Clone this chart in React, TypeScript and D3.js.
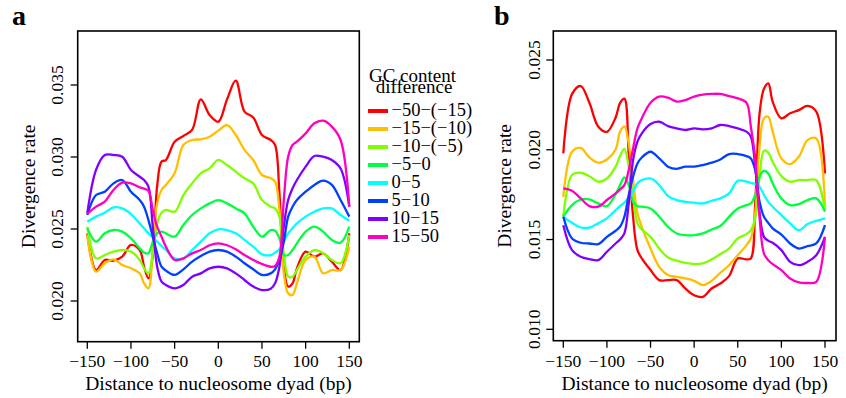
import React, { useRef, useEffect } from "react";
import * as d3 from "d3";

// distance to nucleosome dyad (bp)
const positions = [
  -150, -140, -130, -120, -110, -100, -90, -85, -80, -75, -70, -65, -60, -50, -40, -30, -20, -10, 0,
  10, 20, 30, 40, 50, 60, 65, 70, 75, 80, 85, 90, 100, 110, 120, 130, 140, 150,
];

const groups = ["−50−(−15)", "−15−(−10)", "−10−(−5)", "−5−0", "0−5", "5−10", "10−15", "15−50"];
const colors = ["#FF0000", "#FFBF00", "#80FF00", "#00FF40", "#00FFFF", "#0040FF", "#8000FF", "#FF00BF"];

// panel a
const redA = [0.0247, 0.02215, 0.02285, 0.0228, 0.02308, 0.02389, 0.02354, 0.02238, 0.02157, 0.0232, 0.028, 0.02968, 0.02979, 0.03106, 0.03146, 0.03188, 0.034, 0.03292, 0.03245, 0.034, 0.0353, 0.03315, 0.03275, 0.03153, 0.03118, 0.03083, 0.02748, 0.02238, 0.021, 0.02123, 0.02227, 0.02343, 0.02308, 0.02331, 0.02273, 0.02215, 0.0247];
const orangeA = [0.02458, 0.02204, 0.02262, 0.02289, 0.0225, 0.02227, 0.02192, 0.02123, 0.02088, 0.02377, 0.02678, 0.02771, 0.02806, 0.02887, 0.03083, 0.03118, 0.03123, 0.03141, 0.03183, 0.03222, 0.03153, 0.03049, 0.02979, 0.02875, 0.02852, 0.02829, 0.02632, 0.02192, 0.02053, 0.02042, 0.02123, 0.02285, 0.02308, 0.02192, 0.02215, 0.02215, 0.02377];
const limeA = [0.02516, 0.02296, 0.02319, 0.02343, 0.02354, 0.02343, 0.02285, 0.02227, 0.02192, 0.0233, 0.02539, 0.02613, 0.02632, 0.0262, 0.02736, 0.02817, 0.02887, 0.02921, 0.0298, 0.02944, 0.02898, 0.02852, 0.02817, 0.02701, 0.02655, 0.02643, 0.02586, 0.02331, 0.02169, 0.02169, 0.02215, 0.02308, 0.02354, 0.02331, 0.02285, 0.02262, 0.02458];
const greenA = [0.02505, 0.02412, 0.0247, 0.02493, 0.02482, 0.02435, 0.02366, 0.02336, 0.02331, 0.02412, 0.0247, 0.02482, 0.0247, 0.02447, 0.02528, 0.02597, 0.02643, 0.02678, 0.02701, 0.02678, 0.02643, 0.02609, 0.02516, 0.02447, 0.02493, 0.02488, 0.02435, 0.02319, 0.02319, 0.02354, 0.024, 0.02482, 0.02516, 0.02482, 0.02424, 0.02405, 0.02516];
const cyanA = [0.02551, 0.02586, 0.02613, 0.0265, 0.02643, 0.02604, 0.02539, 0.02505, 0.0247, 0.02442, 0.02412, 0.02382, 0.02354, 0.02296, 0.02296, 0.02354, 0.02412, 0.0247, 0.02498, 0.02493, 0.0247, 0.02424, 0.02377, 0.02324, 0.02319, 0.02336, 0.02359, 0.02412, 0.0247, 0.02505, 0.02539, 0.02586, 0.0262, 0.02643, 0.02643, 0.02597, 0.02558];
const blueA = [0.02597, 0.02736, 0.02759, 0.02817, 0.0284, 0.02759, 0.02701, 0.02655, 0.02562, 0.02447, 0.02331, 0.02238, 0.02211, 0.02181, 0.0222, 0.02273, 0.02312, 0.02343, 0.02354, 0.02343, 0.02308, 0.02262, 0.0222, 0.02181, 0.02192, 0.0222, 0.02285, 0.02412, 0.02586, 0.02655, 0.02701, 0.02759, 0.02806, 0.02836, 0.02806, 0.02701, 0.02586];
const purpleA = [0.02609, 0.0291, 0.03014, 0.03014, 0.03002, 0.0291, 0.02863, 0.0284, 0.02794, 0.02516, 0.02238, 0.02134, 0.02111, 0.02088, 0.02111, 0.02169, 0.02192, 0.02227, 0.02238, 0.02227, 0.02192, 0.02146, 0.021, 0.02076, 0.02085, 0.02123, 0.02238, 0.02516, 0.02701, 0.02782, 0.0284, 0.02933, 0.03007, 0.03002, 0.02979, 0.0292, 0.02655];
const magentaA = [0.02604, 0.02655, 0.0269, 0.02771, 0.02822, 0.02817, 0.02789, 0.0278, 0.02766, 0.02632, 0.02516, 0.02447, 0.02377, 0.02285, 0.02296, 0.02331, 0.02354, 0.02387, 0.024, 0.02387, 0.02359, 0.02319, 0.02285, 0.02257, 0.02238, 0.02243, 0.02308, 0.02701, 0.03002, 0.03083, 0.03106, 0.03164, 0.03234, 0.03252, 0.03211, 0.03118, 0.02655];

// panel b
const redB = [0.0198, 0.0231, 0.02355, 0.0226, 0.0213, 0.021, 0.0218, 0.0226, 0.02285, 0.0198, 0.01627, 0.01441, 0.01395, 0.0133, 0.01274, 0.01274, 0.01274, 0.01227, 0.0119, 0.01181, 0.01227, 0.01255, 0.01296, 0.01395, 0.01389, 0.01395, 0.01701, 0.02203, 0.0234, 0.0237, 0.02268, 0.02175, 0.02203, 0.02221, 0.02244, 0.02212, 0.01868];
const orangeB = [0.01738, 0.01989, 0.0201, 0.01957, 0.01928, 0.01946, 0.02002, 0.021, 0.0213, 0.02036, 0.01831, 0.01645, 0.01571, 0.0145, 0.01348, 0.01302, 0.01292, 0.01283, 0.0127, 0.01246, 0.0127, 0.01315, 0.01357, 0.01413, 0.01469, 0.01506, 0.01645, 0.02017, 0.02175, 0.02184, 0.02101, 0.01952, 0.0192, 0.01961, 0.02054, 0.02063, 0.01683];
const limeB = [0.01627, 0.01859, 0.01872, 0.01853, 0.01822, 0.0184, 0.01906, 0.01965, 0.02005, 0.01906, 0.01738, 0.0159, 0.01556, 0.01515, 0.0145, 0.014, 0.01382, 0.0137, 0.01363, 0.01367, 0.01389, 0.01419, 0.0145, 0.01506, 0.0153, 0.01552, 0.01618, 0.0185, 0.01995, 0.01984, 0.01933, 0.01853, 0.01822, 0.01831, 0.01831, 0.01831, 0.01664];
const greenB = [0.01627, 0.01692, 0.01723, 0.01723, 0.01701, 0.01686, 0.01753, 0.01803, 0.01846, 0.01803, 0.0171, 0.01686, 0.01683, 0.01673, 0.01627, 0.01571, 0.01534, 0.01524, 0.01524, 0.01534, 0.01556, 0.01575, 0.01627, 0.01673, 0.01692, 0.01701, 0.01748, 0.0185, 0.01883, 0.01868, 0.01813, 0.01729, 0.01692, 0.01697, 0.0172, 0.01729, 0.01655];
const cyanB = [0.01627, 0.01593, 0.01567, 0.01567, 0.0159, 0.01618, 0.01664, 0.01686, 0.01705, 0.01735, 0.01766, 0.01813, 0.01831, 0.0184, 0.01803, 0.01742, 0.0172, 0.0171, 0.01705, 0.01701, 0.01716, 0.01729, 0.01757, 0.01827, 0.01822, 0.01816, 0.01809, 0.01794, 0.01748, 0.0171, 0.01683, 0.01636, 0.0159, 0.01552, 0.01586, 0.01604, 0.01618];
const blueB = [0.01627, 0.01506, 0.01482, 0.01478, 0.01474, 0.01515, 0.01549, 0.01571, 0.01627, 0.01748, 0.0185, 0.01924, 0.01957, 0.01989, 0.01952, 0.01906, 0.01894, 0.01906, 0.01906, 0.01915, 0.01928, 0.01946, 0.01976, 0.01976, 0.01965, 0.01952, 0.01887, 0.0171, 0.01627, 0.01593, 0.01562, 0.01528, 0.01478, 0.0145, 0.01463, 0.01478, 0.0158];
const purpleB = [0.0158, 0.01441, 0.01404, 0.01391, 0.01385, 0.01432, 0.01478, 0.015, 0.01534, 0.01701, 0.01943, 0.02045, 0.02091, 0.02143, 0.02156, 0.02132, 0.02119, 0.0211, 0.02119, 0.02114, 0.02119, 0.02138, 0.02132, 0.02119, 0.02101, 0.02073, 0.01906, 0.0165, 0.01515, 0.01493, 0.01482, 0.01441, 0.01376, 0.01357, 0.01376, 0.01413, 0.01515];
const magentaB = [0.01785, 0.01772, 0.01729, 0.01686, 0.01683, 0.0172, 0.01757, 0.01779, 0.01803, 0.01887, 0.02008, 0.02119, 0.02175, 0.02262, 0.02296, 0.0229, 0.02268, 0.02277, 0.02296, 0.02307, 0.02311, 0.02311, 0.02299, 0.02286, 0.02262, 0.02128, 0.0195, 0.0162, 0.01422, 0.01385, 0.01363, 0.0133, 0.01283, 0.01261, 0.01258, 0.01264, 0.01515];

const xTicks = [-150, -100, -50, 0, 50, 100, 150];
const yTicksA = [0.02, 0.025, 0.03, 0.035];
const yTicksB = [0.01, 0.015, 0.02, 0.025];

const FONT = "'Liberation Serif', 'Times New Roman', serif";

const panels = [
  {
    label: "a",
    series: [redA, orangeA, limeA, greenA, cyanA, blueA, purpleA, magentaA],
    box: { l: 77.7, r: 359.3, t: 31, b: 341.7 },
    xRange: [87.3, 349.3],
    yDomain: [0.02, 0.035],
    yRange: [301, 85],
    yTicks: yTicksA,
    tickLabelX: 63,
    titleX: 35,
    labelX: 12,
  },
  {
    label: "b",
    series: [redB, orangeB, limeB, greenB, cyanB, blueB, purpleB, magentaB],
    box: { l: 553.3, r: 836, t: 31, b: 340.7 },
    xRange: [563.3, 825],
    yDomain: [0.01, 0.025],
    yRange: [329.3, 60],
    yTicks: yTicksB,
    tickLabelX: 540,
    titleX: 511,
    labelX: 494,
  },
];

const minus = (s: string) => s.replace(/-/g, "−");

export default function App() {
  const svgRef = useRef<SVGSVGElement>(null);

  useEffect(() => {
    const svg = d3.select(svgRef.current);
    svg.selectAll("*").remove();
    svg.attr("font-family", FONT);

    panels.forEach((p) => {
      const x = d3.scaleLinear().domain([-150, 150]).range(p.xRange);
      const y = d3.scaleLinear().domain(p.yDomain).range(p.yRange);
      const g = svg.append("g");

      const line = d3
        .line<number>()
        .x((_, i) => x(positions[i]))
        .y((d) => y(d))
        .curve(d3.curveCatmullRom.alpha(0.5));

      p.series.forEach((vals, k) => {
        g.append("path")
          .attr("d", line(vals))
          .attr("fill", "none")
          .attr("stroke", colors[k])
          .attr("stroke-width", 2.3)
          .attr("stroke-linejoin", "round");
      });

      // box
      g.append("rect")
        .attr("x", p.box.l)
        .attr("y", p.box.t)
        .attr("width", p.box.r - p.box.l)
        .attr("height", p.box.b - p.box.t)
        .attr("fill", "none")
        .attr("stroke", "#000")
        .attr("stroke-width", 1.6);

      // x axis
      xTicks.forEach((t) => {
        g.append("line")
          .attr("x1", x(t))
          .attr("x2", x(t))
          .attr("y1", p.box.b)
          .attr("y2", p.box.b + 7)
          .attr("stroke", "#000")
          .attr("stroke-width", 1.3);
        g.append("text")
          .attr("x", x(t))
          .attr("y", 366.5)
          .attr("text-anchor", "middle")
          .attr("font-size", 17.5)
          .text(minus(String(t)));
      });

      // y axis
      p.yTicks.forEach((t) => {
        g.append("line")
          .attr("x1", p.box.l)
          .attr("x2", p.box.l - 7)
          .attr("y1", y(t))
          .attr("y2", y(t))
          .attr("stroke", "#000")
          .attr("stroke-width", 1.3);
        g.append("text")
          .attr("transform", `translate(${p.tickLabelX},${y(t)}) rotate(-90)`)
          .attr("text-anchor", "middle")
          .attr("font-size", 17.5)
          .text(d3.format(".3f")(t));
      });

      g.append("text")
        .attr("x", (p.box.l + p.box.r) / 2)
        .attr("y", 390)
        .attr("text-anchor", "middle")
        .attr("font-size", 19.5)
        .text("Distance to nucleosome dyad (bp)");

      g.append("text")
        .attr("transform", `translate(${p.titleX},${(p.box.t + p.box.b) / 2}) rotate(-90)`)
        .attr("text-anchor", "middle")
        .attr("font-size", 19.5)
        .text("Divergence rate");

      g.append("text")
        .attr("x", p.labelX)
        .attr("y", 25)
        .attr("font-size", 28)
        .attr("font-weight", "bold")
        .text(p.label);
    });

    // legend
    const lg = svg.append("g");
    lg.append("text")
      .attr("x", 412.5)
      .attr("y", 81.5)
      .attr("text-anchor", "middle")
      .attr("font-size", 19)
      .text("GC content");
    lg.append("text")
      .attr("x", 414)
      .attr("y", 93)
      .attr("text-anchor", "middle")
      .attr("font-size", 19)
      .text("difference");
    groups.forEach((name, i) => {
      const cy = 111 + i * 18;
      lg.append("line")
        .attr("x1", 368)
        .attr("x2", 388)
        .attr("y1", cy)
        .attr("y2", cy)
        .attr("stroke", colors[i])
        .attr("stroke-width", 4);
      lg.append("text")
        .attr("x", 391.5)
        .attr("y", cy + 4.5)
        .attr("font-size", 18.5)
        .text(name);
    });
  }, []);

  return (
    <svg
      ref={svgRef}
      width={846}
      height={398}
      style={{ position: "absolute", left: 0, top: 0, background: "#fff" }}
    />
  );
}
